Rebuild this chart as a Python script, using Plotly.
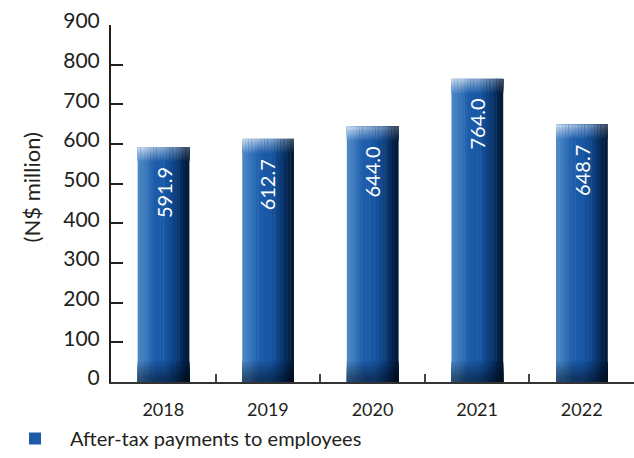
import plotly.graph_objects as go

# data
years = ["2018", "2019", "2020", "2021", "2022"]
payments = [591.9, 612.7, 644.0, 764.0, 648.7]
value_labels = ["591.9", "612.7", "644.0", "764.0", "648.7"]
series_name = "After-tax payments to employees"

# styling
FONT = "Lato"
INK = "#231f20"
BAR_WIDTH = 0.49
N_STRIPS = 16
# light bands at the top: (height in axis units, whiteness)
CAP_LAYERS = [(36 - 3.5 * k, 0.045 * (k + 1)) for k in range(10)]
# dark bands at the bottom: (height in axis units, darkness)
FOOT_LAYERS = [(52 - 5 * k, 0.06 + 0.045 * k) for k in range(9)]

# horizontal shading stops for the cylinder look
stops = [(0.0, (78, 136, 198)), (0.15, (58, 120, 189)), (0.32, (30, 93, 170)),
         (0.55, (22, 86, 164)), (0.75, (11, 61, 122)), (0.9, (4, 36, 77)),
         (1.0, (2, 24, 51))]


def shade(t):
    for (t0, c0), (t1, c1) in zip(stops, stops[1:]):
        if t <= t1:
            f = (t - t0) / (t1 - t0)
            return tuple(a + (b - a) * f for a, b in zip(c0, c1))
    return stops[-1][1]


def rgb(c, white=0.0, black=0.0):
    c = [v + (255 - v) * white for v in c]
    c = [v * (1 - black) for v in c]
    return "rgb(%d,%d,%d)" % tuple(round(v) for v in c)


fig = go.Figure()
step = BAR_WIDTH / N_STRIPS
legend_strip = N_STRIPS // 3
for i in range(N_STRIPS):
    t = (i + 0.5) / N_STRIPS
    base_c = shade(t)
    off = -BAR_WIDTH / 2 + i * step
    common = dict(x=years, width=step * 1.15, offset=off,
                  hoverinfo="skip", marker_line_width=0)
    # main body
    fig.add_trace(go.Bar(y=payments, marker_color=rgb(base_c),
                         name=series_name, showlegend=(i == legend_strip),
                         **common))
    # bottom shadow
    for h, dark in FOOT_LAYERS:
        fig.add_trace(go.Bar(y=[h] * len(years), showlegend=False,
                             marker_color=rgb(base_c, black=dark), **common))
    # top highlight, stronger on the left
    for h, w in CAP_LAYERS:
        fig.add_trace(go.Bar(y=[h] * len(years), base=[v - h for v in payments],
                             marker_color=rgb(base_c, white=w * (1.5 - t)),
                             showlegend=False, **common))

for i, (v, lab) in enumerate(zip(payments, value_labels)):
    fig.add_annotation(x=i, y=v, text=lab, textangle=-90, showarrow=False,
                       xanchor="center", yanchor="top", yshift=-18,
                       font=dict(family=FONT, size=20, color="white"))

# y axis title, set a little above the axis centre as in the source
fig.add_annotation(xref="paper", yref="paper", x=0, y=0.545, xshift=-80,
                   xanchor="center", yanchor="middle",
                   text="(N$ million)", textangle=-90, showarrow=False,
                   font=dict(family=FONT, size=22, color=INK))

fig.update_layout(
    barmode="overlay",
    width=634, height=458,
    plot_bgcolor="white", paper_bgcolor="white",
    font=dict(family=FONT, color=INK),
    margin=dict(l=111, r=0, t=25, b=76, autoexpand=False),
    xaxis=dict(type="category", categoryorder="array", categoryarray=years,
               range=[-0.5, len(years) - 0.5],
               showline=True, linecolor="#333", linewidth=2,
               ticks="inside", tickson="boundaries", ticklen=8, tickwidth=1.5,
               tickcolor="#444", showgrid=False, zeroline=False,
               tickfont=dict(size=18, color=INK), ticklabelstandoff=10),
    yaxis=dict(range=[0, 900], dtick=100, showline=True, linecolor=INK,
               linewidth=2, ticks="inside", ticklen=12, tickwidth=2,
               tickcolor=INK, showgrid=False, zeroline=False,
               tickfont=dict(size=21, color=INK), ticklabelstandoff=5,
               ticklabelshift=-4),
    legend=dict(xref="container", yref="container", x=-0.006, y=0.0,
                xanchor="left", yanchor="bottom", orientation="h",
                bgcolor="rgba(0,0,0,0)",
                font=dict(size=20, color=INK), itemwidth=60),
)

fig.write_html("out.html", config={"displayModeBar": False},
               post_script="document.body.style.margin='0';")
